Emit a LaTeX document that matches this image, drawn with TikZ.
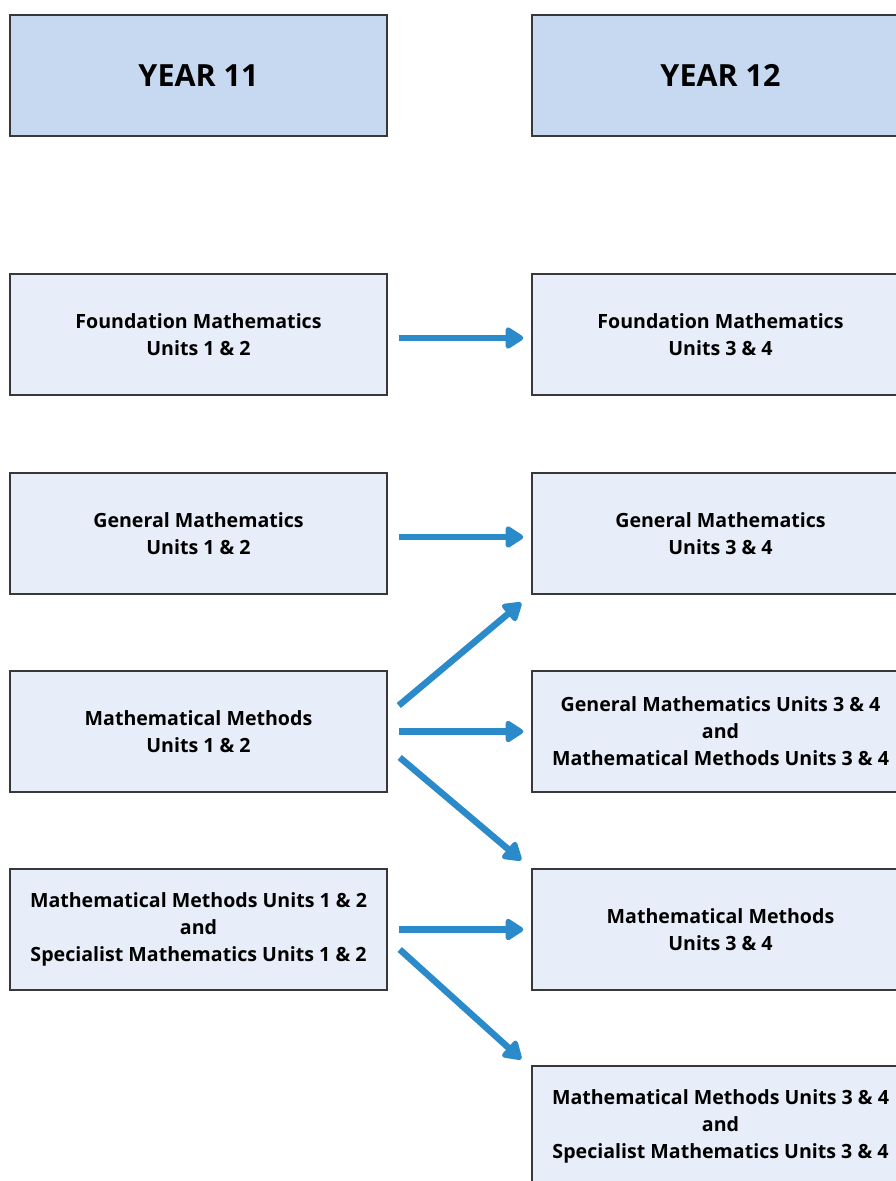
\documentclass[tikz,border=0pt]{standalone}
\usepackage{fontspec}
\setmainfont{Open Sans}
\usetikzlibrary{arrows.meta}
\definecolor{hdrfill}{HTML}{C6D9F1}
\definecolor{boxfill}{HTML}{E8EEF9}
\definecolor{boxline}{HTML}{383838}
\definecolor{arrblue}{HTML}{2B8ACA}
\begin{document}
\begin{tikzpicture}[x=1pt,y=-1pt,
  box/.style={draw=boxline,line width=1.5pt,fill=boxfill,minimum width=377pt,minimum height=121pt,inner sep=0pt,align=center,font=\fontsize{19.6}{27}\selectfont\bfseries},
  hdr/.style={box,fill=hdrfill,font=\fontsize{30.5}{36}\selectfont\bfseries},
  arr/.style={draw=arrblue,line width=6.5pt,-{Triangle[length=20pt,width=24pt,round]}}]
\useasboundingbox[fill=white] (0,0) rectangle (896,1181);
\node[hdr] (h11) at (198.5,75.5) {YEAR 11};
\node[hdr] (h12) at (720.5,75.5) {YEAR 12};
\node[box] (f11) at (198.5,334.5) {Foundation Mathematics\\Units 1 \& 2};
\node[box] (f12) at (720.5,334.5) {Foundation Mathematics\\Units 3 \& 4};
\node[box] (g11) at (198.5,533.5) {General Mathematics\\Units 1 \& 2};
\node[box] (g12) at (720.5,533.5) {General Mathematics\\Units 3 \& 4};
\node[box] (m11) at (198.5,731.5) {Mathematical Methods\\Units 1 \& 2};
\node[box] (gm12) at (720.5,731.5) {General Mathematics Units 3 \& 4\\and\\Mathematical Methods Units 3 \& 4};
\node[box] (ms11) at (198.5,929.5) {Mathematical Methods Units 1 \& 2\\and\\Specialist Mathematics Units 1 \& 2};
\node[box] (m12) at (720.5,929.5) {Mathematical Methods\\Units 3 \& 4};
\node[box] (ms12) at (720.5,1126.5) {Mathematical Methods Units 3 \& 4\\and\\Specialist Mathematics Units 3 \& 4};
\draw[arr] ([shift={(11,3.5)}]f11.east) -- ([shift={(-8,3.5)}]f12.west);
\draw[arr] ([shift={(11,3.5)}]g11.east) -- ([shift={(-8,3.5)}]g12.west);
\draw[arr] ([shift={(11,-26)}]m11.east) -- ([shift={(-10,8)}]g12.south west);
\draw[arr] ([shift={(11,0)}]m11.east) -- ([shift={(-8,0)}]gm12.west);
\draw[arr] ([shift={(12,26)}]m11.east) -- ([shift={(-10,-8)}]m12.north west);
\draw[arr] ([shift={(11,0)}]ms11.east) -- ([shift={(-8,0)}]m12.west);
\draw[arr] ([shift={(12,20)}]ms11.east) -- ([shift={(-10,-6)}]ms12.north west);
\end{tikzpicture}
\end{document}
